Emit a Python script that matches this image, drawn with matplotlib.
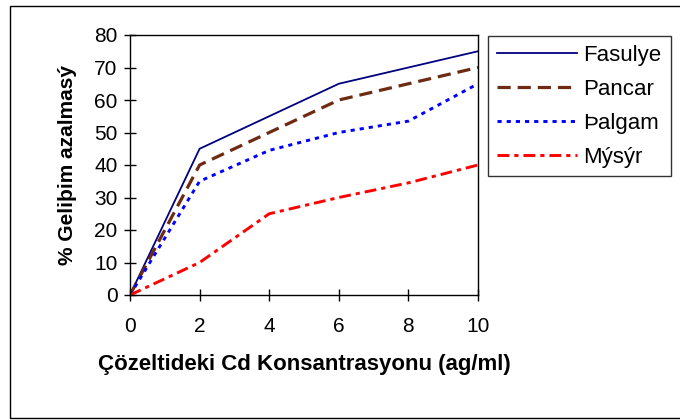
import matplotlib
matplotlib.use('Agg')
import matplotlib.pyplot as plt
from matplotlib.patches import Rectangle

plt.rcParams['font.family'] = ['Liberation Sans', 'DejaVu Sans']
plt.rcParams['lines.scale_dashes'] = False

konsantrasyon = [0, 2, 4, 6, 8, 10]
fasulye = [0, 45, 55, 65, 70, 75]
pancar = [0, 40, 50, 60, 65, 70]
salgam = [0, 35, 44.5, 50, 53.5, 65]
misir = [0, 10, 25, 30, 34.5, 40]

etiketler = ['Fasulye', 'Pancar', 'Þalgam', 'Mýsýr']
x_ticks = [0, 2, 4, 6, 8, 10]
y_ticks = [0, 10, 20, 30, 40, 50, 60, 70, 80]

fig = plt.figure(figsize=(6.8, 4.2), dpi=100)
ax = fig.add_axes([130 / 680, 1 - 295 / 420, 348 / 680, 260 / 420])

ax.plot(konsantrasyon, fasulye, color='#000080', lw=1.3, label=etiketler[0])
ax.plot(konsantrasyon, pancar, color='#6e2b14', lw=2.3,
        dashes=(9.5, 5), label=etiketler[1])
ax.plot(konsantrasyon, salgam, color='#0000ff', lw=2.1,
        dashes=(3, 3.6), label=etiketler[2])
ax.plot(konsantrasyon, misir, color='#ff0000', lw=2.1,
        dashes=(8.5, 3.6, 3, 3.6), label=etiketler[3])

ax.set_xlim(0, 10)
ax.set_ylim(0, 80)
ax.set_xticks(x_ticks)
ax.set_yticks(y_ticks)
ax.tick_params(direction='inout', length=8, width=1, labelsize=15, pad=5)
ax.tick_params(axis='x', pad=12)
for s in ax.spines.values():
    s.set_linewidth(1)

ax.set_xlabel('Çözeltideki Cd Konsantrasyonu (ag/ml)', fontsize=16,
              fontweight='bold', labelpad=13)
ax.set_ylabel('% Geliþim azalmasý', fontsize=15, fontweight='bold', labelpad=12)

leg = ax.legend(loc='upper left', bbox_to_anchor=(488 / 680, 1 - 36 / 420),
                bbox_transform=fig.transFigure, fontsize=16, frameon=True,
                fancybox=False, edgecolor='black', handlelength=3.6,
                labelspacing=0.58, borderpad=0.4, handletextpad=0.3,
                borderaxespad=0)
leg.get_frame().set_linewidth(1)

fig.add_artist(Rectangle((10 / 680, 2 / 420), 1, 1 - 8 / 420, fill=False,
                         edgecolor='black', lw=1, transform=fig.transFigure))

fig.savefig('out.png', dpi=100)
